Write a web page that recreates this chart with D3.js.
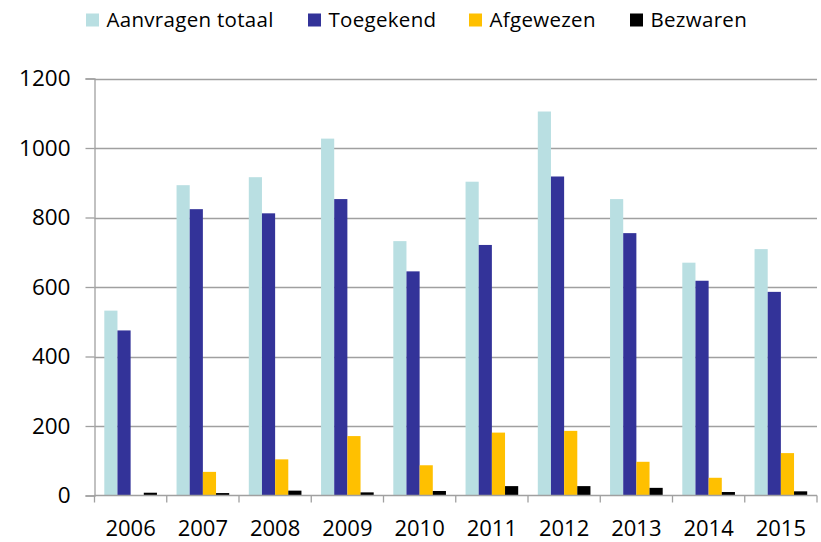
<!DOCTYPE html>
<html>
<head>
<meta charset="utf-8">
<script src="https://cdn.jsdelivr.net/npm/d3@7"></script>
<style>
  html, body { margin: 0; padding: 0; background: #ffffff; }
  svg { display: block; }
  text { font-family: "Open Sans", Lato, sans-serif; fill: #000; }
</style>
</head>
<body>
<svg id="chart" width="821" height="542"></svg>
<script>
// Years shown along the x axis
const years = ["2006", "2007", "2008", "2009", "2010", "2011", "2012", "2013", "2014", "2015"];

// Series names and colours
const seriesNames = ["Aanvragen totaal", "Toegekend", "Afgewezen", "Bezwaren"];
const seriesColors = ["#b9dfe2", "#333399", "#ffc000", "#000000"];

// Values per series, one per year
const aanvragenTotaal = [532, 893, 916, 1027, 732, 903, 1105, 853, 670, 709];
const toegekend       = [475, 824, 812, 853, 645, 721, 918, 755, 618, 586];
const afgewezen       = [0, 68, 104, 171, 87, 181, 186, 97, 51, 122];
const bezwaren        = [8, 7, 14, 9, 13, 27, 27, 22, 10, 12];

// Y axis ticks
const yTicks = [0, 200, 400, 600, 800, 1000, 1200];

const seriesValues = [aanvragenTotaal, toegekend, afgewezen, bezwaren];
const rows = years.map((yr, i) => ({
  year: yr,
  values: seriesNames.map((s, k) => ({ key: s, value: seriesValues[k][i] }))
}));

const svg = d3.select("#chart");
const plotLeft = 94.5, plotRight = 817, plotTop = 78.5, plotBottom = 495.5;

const x0 = d3.scaleBand().domain(years).range([plotLeft, plotRight]).paddingInner(0).paddingOuter(0);
const bw = x0.bandwidth();
const x1 = d3.scaleBand().domain(seriesNames).range([9.8, bw - 9.8]).padding(0);
const y = d3.scaleLinear().domain([0, 1200]).range([plotBottom, plotTop]);
const color = d3.scaleOrdinal().domain(seriesNames).range(seriesColors);

// Horizontal gridlines
svg.append("g")
  .selectAll("line")
  .data(yTicks.filter(d => d > 0))
  .join("line")
  .attr("x1", plotLeft).attr("x2", plotRight)
  .attr("y1", d => Math.round(y(d)) + 0.5).attr("y2", d => Math.round(y(d)) + 0.5)
  .attr("stroke", "#a0a0a0").attr("stroke-width", 1.3);

// Bars
svg.append("g")
  .selectAll("g")
  .data(rows)
  .join("g")
  .attr("transform", d => `translate(${x0(d.year)},0)`)
  .selectAll("rect")
  .data(d => d.values)
  .join("rect")
  .attr("x", d => x1(d.key))
  .attr("width", x1.bandwidth())
  .attr("y", d => y(d.value))
  .attr("height", d => plotBottom - y(d.value))
  .attr("fill", d => color(d.key));

// Y axis
const yAxis = svg.append("g")
  .attr("transform", `translate(${plotLeft},0)`)
  .call(d3.axisLeft(y).tickValues(yTicks).tickSize(9).tickPadding(15).tickFormat(d3.format("d")));
yAxis.select(".domain").attr("stroke", "#a0a0a0").attr("stroke-width", 1.3);
yAxis.selectAll(".tick line").attr("stroke", "#a0a0a0").attr("stroke-width", 1.3);
yAxis.selectAll("text").attr("font-size", 22.5).attr("font-family", "'Open Sans', sans-serif").attr("fill", "#000");

// X axis with ticks at band edges
const xAxis = svg.append("g").attr("transform", `translate(0,${plotBottom})`);
xAxis.append("line")
  .attr("x1", plotLeft).attr("x2", plotRight).attr("y1", 0).attr("y2", 0)
  .attr("stroke", "#a0a0a0").attr("stroke-width", 1.3);
xAxis.selectAll("line.edge")
  .data(years.map(d => x0(d)).concat([x0(years[years.length - 1]) + bw]))
  .join("line")
  .attr("class", "edge")
  .attr("x1", d => d).attr("x2", d => d).attr("y1", 0).attr("y2", 7)
  .attr("stroke", "#a0a0a0").attr("stroke-width", 1.3);
xAxis.selectAll("text")
  .data(years)
  .join("text")
  .attr("x", d => x0(d) + bw / 2)
  .attr("y", 40.5)
  .attr("text-anchor", "middle")
  .attr("font-size", 22)
  .text(d => d);

// Legend
const legendItems = [
  { name: seriesNames[0], x: 86 },
  { name: seriesNames[1], x: 308 },
  { name: seriesNames[2], x: 469 },
  { name: seriesNames[3], x: 630 }
];
const legend = svg.append("g");
const li = legend.selectAll("g").data(legendItems).join("g")
  .attr("transform", d => `translate(${d.x},0)`);
li.append("rect")
  .attr("x", 0).attr("y", 13.5).attr("width", 13).attr("height", 13)
  .attr("fill", d => color(d.name));
li.append("text")
  .attr("x", 20.5).attr("y", 27)
  .attr("font-size", 20.5)
  .attr("letter-spacing", 0.3)
  .text(d => d.name);
</script>
</body>
</html>
